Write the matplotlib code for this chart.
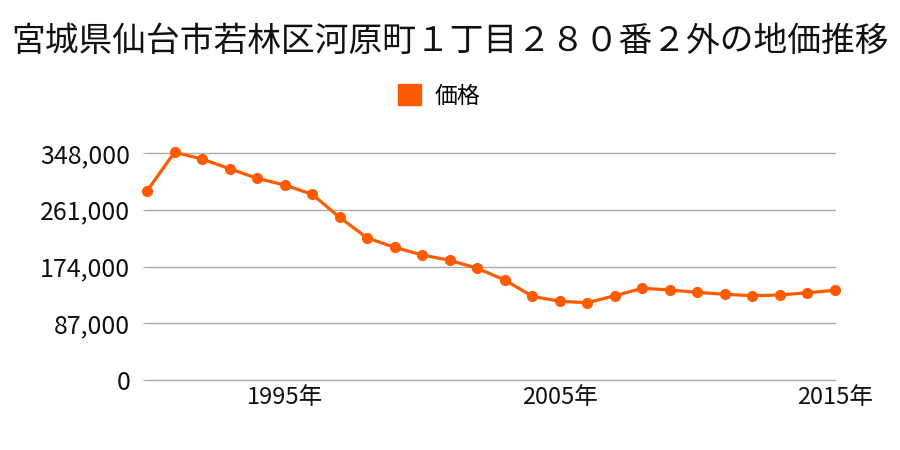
import matplotlib
matplotlib.use("Agg")
import matplotlib.pyplot as plt
from matplotlib.patches import Patch

plt.rcParams['font.family'] = ['Noto Sans CJK JP', 'DejaVu Sans']

title = "宮城県仙台市若林区河原町１丁目２８０番２外の地価推移"
series_name = "価格"
years = list(range(1990, 2016))
prices = [289700, 349100, 338800, 323900, 309200, 298900, 284700, 249400,
          217700, 203400, 191600, 183500, 171200, 153300, 128300, 120600,
          118500, 129200, 140600, 138000, 134400, 131400, 129200, 130300,
          133800, 137500]
yticks = [0, 87000, 174000, 261000, 348000]
xticks = [1995, 2005, 2015]
xticklabels = ["1995年", "2005年", "2015年"]

color = "#ff5a00"

fig = plt.figure(figsize=(9, 4.5), dpi=100)
ax = fig.add_axes([147/900, 70/450, 688/900, 227/450])

for v in yticks:
    ax.axhline(v, color='#aaaaaa', linewidth=1, clip_on=False, zorder=1)

ax.plot(years, prices, color=color, linewidth=2.3, marker='o', markersize=7,
        clip_on=False, zorder=3)

ax.set_xlim(1990, 2015)
ax.set_ylim(0, 348000)
ax.set_yticks(yticks)
ax.set_yticklabels([f"{v:,}" for v in yticks])
ax.set_xticks(xticks)
ax.set_xticklabels(xticklabels)

for s in ax.spines.values():
    s.set_visible(False)
ax.tick_params(axis='y', length=3, color='#aaaaaa', pad=9, labelsize=18, labelcolor='#111111')
ax.tick_params(axis='x', length=0, pad=4, labelsize=17, labelcolor='#111111')

fig.text(0.5, 1 - 41/450, title, ha='center', va='center', fontsize=24.3, color='#111111')

handle = Patch(facecolor=color, edgecolor=color)
fig.legend([handle], [series_name], loc='center', bbox_to_anchor=(0.488, 1 - 96/450),
           frameon=False, fontsize=16.5, handlelength=1.0, handleheight=1.0,
           handletextpad=0.6)

fig.savefig("out.png", dpi=100)
